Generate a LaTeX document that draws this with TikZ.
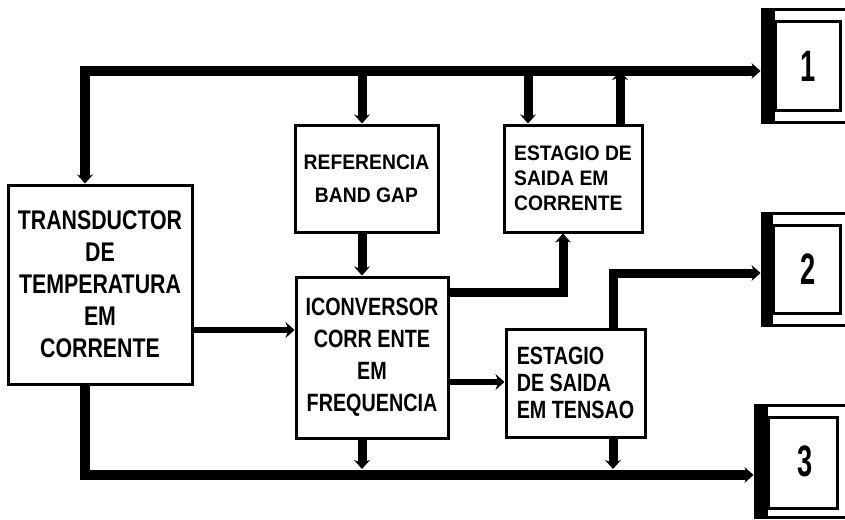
\documentclass[tikz,border=0pt]{standalone}
\usepackage{fontspec}
\setmainfont{Liberation Sans}[FakeStretch=0.92]
\newfontfamily\narrowfont{Liberation Sans}[FakeStretch=0.79]
\newfontfamily\numfont{Liberation Sans}[FakeStretch=0.62]
\usetikzlibrary{arrows.meta}
\begin{document}
\begin{tikzpicture}[x=1pt,y=-1pt,
  blk/.style={draw, line width=3pt, inner sep=0pt, align=center},
  outbox/.style={draw, line width=3pt, inner sep=0pt, font=\numfont\bfseries\fontsize{44}{44}\selectfont},
  bus/.style={line width=10pt, line join=miter},
  drop/.style={line width=9pt},
  thinlink/.style={line width=6pt},
  tip/.style={-{Stealth[length=9pt,width=16pt]}},
]
\useasboundingbox (0,0) rectangle (845,519);
\clip (0,0) rectangle (845,519);

% main blocks
\node[blk, minimum width=184pt, minimum height=199pt, font=\narrowfont\bfseries\fontsize{27}{32}\selectfont] (trans) at (100,284.5)
  {TRANSDUCTOR\\DE\\TEMPERATURA\\EM\\CORRENTE};
\node[blk, minimum width=143pt, minimum height=107pt, font=\bfseries\fontsize{21}{33}\selectfont] (ref) at (366.5,178.5)
  {REFERENCIA\\BAND GAP};
\node[blk, minimum width=138pt, minimum height=107pt, align=left, font=\bfseries\fontsize{21}{25}\selectfont] (corr) at (573,178.5)
  {ESTAGIO DE\\SAIDA EM\\CORRENTE};
\node[blk, minimum width=152pt, minimum height=161pt, font=\narrowfont\bfseries\fontsize{25}{32}\selectfont] (conv) at (372,357.5)
  {ICONVERSOR\\CORR ENTE\\EM\\FREQUENCIA};
\node[blk, minimum width=139pt, minimum height=108pt, align=left, font=\narrowfont\bfseries\fontsize{25}{27}\selectfont] (tens) at (575.5,383)
  {ESTAGIO\\DE SAIDA\\EM TENSAO};

% output boxes (outer frame is the node, inner frame drawn inside)
\node[outbox, minimum width=93pt, minimum height=112pt] (out1) at (808.5,66) {1};
\node[outbox, minimum width=93pt, minimum height=112pt] (out2) at (808.5,269) {2};
\node[outbox, minimum width=100pt, minimum height=112pt] (out3) at (805,461) {3};

\draw[line width=3pt] (775,22) rectangle (840,110);
\fill (762,10) rectangle (775,122);
\draw[line width=3pt] (773,225) rectangle (840,313);
\fill (762,213) rectangle (773,325);
\draw[line width=3pt] (768,417) rectangle (837,508);
\fill (755,405) rectangle (768,517);

% routing coordinates
\coordinate (tl) at (85,71);
\coordinate (bl) at (85,475);
\coordinate (bltop) at (85,469);
\coordinate (c1) at (528,71);
\coordinate (c2) at (620,71);
\coordinate (r1) at (0,330);
\coordinate (r2) at (0,382);
\coordinate (r3) at (563,292);
\coordinate (r4) at (613,273);
\coordinate (cx) at (362,0);
\coordinate (tx) at (613,0);

% top bus
\draw[bus, {Stealth[length=9pt,width=16pt]}-{Stealth[length=9pt,width=16pt]}]
  (tl |- trans.north) -- (tl) -- (tl -| out1.west);
\draw[drop, tip] (cx |- tl) -- (cx |- ref.north);
\draw[drop, tip] (c1) -- (c1 |- corr.north);
\draw[drop, tip] (c2 |- corr.north) -- (c2);

% middle links
\draw[drop, tip] (cx |- ref.south) -- (cx |- conv.north);
\draw[thinlink, tip] (trans.east |- r1) -- (conv.west |- r1);
\draw[thinlink, tip] (conv.east |- r2) -- (tens.west |- r2);
\draw[drop, line join=miter, tip] (conv.east |- r3) -- (r3) -- (r3 |- corr.south);
\draw[drop, line join=miter, tip] (r4 |- tens.north) -- (r4) -- (r4 -| out2.west);

% bottom bus
\draw[bus, tip] (bl |- trans.south) -- (bl) -- (bl -| out3.west);
\draw[drop, tip] (cx |- conv.south) -- (cx |- bltop);
\draw[drop, tip] (tx |- tens.south) -- (tx |- bltop);
\end{tikzpicture}
\end{document}
